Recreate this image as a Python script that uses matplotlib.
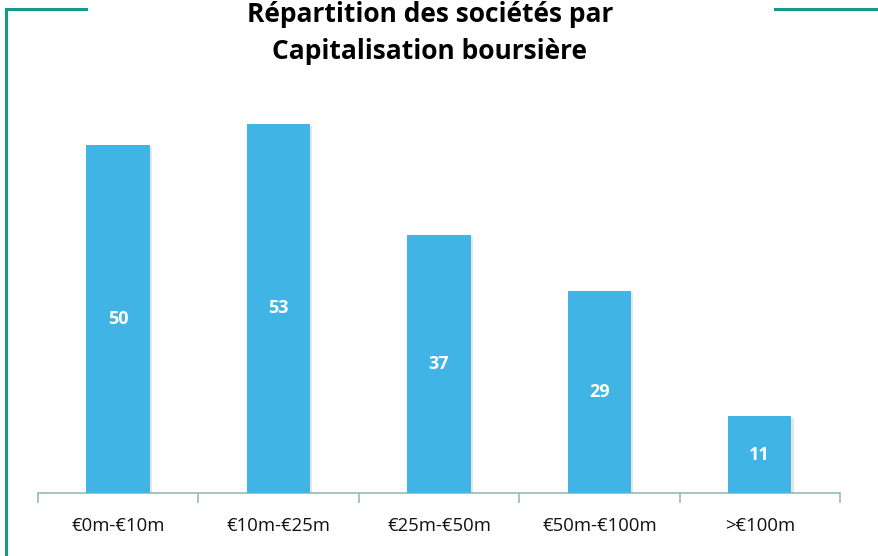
import matplotlib
matplotlib.use("Agg")
import matplotlib.pyplot as plt
import matplotlib.patheffects as pe
from matplotlib.lines import Line2D

categories = ["€0m-€10m", "€10m-€25m", "€25m-€50m", "€50m-€100m", ">€100m"]
values = [50, 53, 37, 29, 11]
title = "Répartition des sociétés par\nCapitalisation boursière"

plt.rcParams['font.family'] = ['Open Sans', 'DejaVu Sans']

fig = plt.figure(figsize=(8.79, 5.56), dpi=100)
ax = fig.add_axes([0.0432, 0.1133, 0.9124, 0.7518])

bar_color = "#41B4E6"
x = list(range(len(categories)))
bars = ax.bar(x, values, width=0.395, color=bar_color, zorder=3)
for b in bars:
    b.set_path_effects([pe.SimplePatchShadow(offset=(1.5, -1.5), shadow_rgbFace="#999999", alpha=0.25), pe.Normal()])

for xi, v in zip(x, values):
    ax.text(xi, v / 2, str(v), ha="center", va="center", color="white",
            fontsize=13, fontweight="bold", zorder=4)

ax.set_xlim(-0.5, len(categories) - 0.5)
ax.set_ylim(0, 60)
ax.set_yticks([])
for s in ["top", "right", "left"]:
    ax.spines[s].set_visible(False)
axis_color = "#93BDB5"
ax.spines["bottom"].set_color(axis_color)
ax.spines["bottom"].set_linewidth(1.2)
ax.set_xticks(x)
ax.set_xticklabels(categories, fontsize=13.3, color="#111111")
ax.tick_params(axis="x", which="major", length=0, pad=17)
ax.set_xticks([i - 0.5 for i in range(len(categories) + 1)], minor=True)
ax.tick_params(axis="x", which="minor", length=7, color=axis_color, width=1.2)

fig.text(0.489, 0.941, title, ha="center", va="center", fontsize=19,
         fontweight="bold", color="#000000", linespacing=1.45)

green = "#17998A"
fig.add_artist(Line2D([6/879, 86/879], [1 - 9/556, 1 - 9/556], color=green, lw=2.2, transform=fig.transFigure))
fig.add_artist(Line2D([6/879, 6/879], [1 - 9/556, 0], color=green, lw=2.2, transform=fig.transFigure))
fig.add_artist(Line2D([775/879, 1], [1 - 9/556, 1 - 9/556], color=green, lw=2.2, transform=fig.transFigure))

fig.savefig("out.png", dpi=100)
